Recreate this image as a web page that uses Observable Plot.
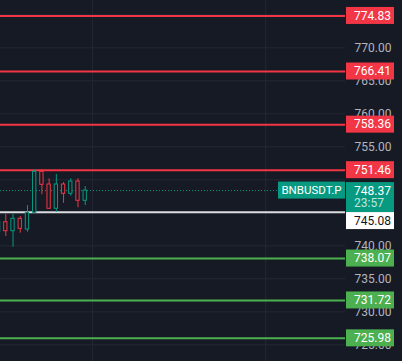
<!DOCTYPE html>
<html><head><meta charset="utf-8">
<script src="https://cdn.jsdelivr.net/npm/d3@7"></script>
<script src="https://cdn.jsdelivr.net/npm/@observablehq/plot@0.6"></script>
<style>
html,body{margin:0;padding:0;background:#161a25;overflow:hidden}
#chart svg{display:block}
</style>
</head><body><div id="chart"></div>
<script>
// ---- data ----
const candleIdx = [0,1,2,3,4,5,6,7,8,9,10,11,12];
const opens  = [742.06,743.58,742.21,744.09,742.47,745.00,751.21,749.29,745.61,749.29,747.88,749.74,746.82];
const highs  = [744.00,744.74,744.74,744.44,746.10,751.52,751.21,750.15,750.80,749.59,750.15,750.15,748.98];
const lows   = [741.60,741.41,739.79,741.91,742.06,745.00,747.73,745.61,745.05,746.45,747.52,745.76,746.11];
const closes = [743.58,742.21,744.09,742.58,745.00,751.21,749.24,745.61,749.29,747.88,749.74,746.82,748.37];

const levelPrices = [774.83,766.41,758.36,751.46,745.08,738.07,731.72,725.98];
const levelTypes  = ["resistance","resistance","resistance","resistance","pivot","support","support","support"];

const lastPrice = 748.37;
const symbol = "BNBUSDT.P";
const countdown = "23:57";

const gridTicks = [725,730,735,740,745,750,755,760,765,770,775];
const labelTicks = [725,730,735,740,755,760,765,770];
const sessionBreaks = [13, 37];

// ---- style ----
const bg = "#161a25", gridColor = "#242833", axisText = "#b2b5be";
const up = "#089981", down = "#f23645";
const typeColor = {resistance: "#f23645", pivot: "#dcdde0", support: "#4caf50"};
const typeBox   = {resistance: "#f23645", pivot: "#ffffff", support: "#4caf50"};
const typeText  = {resistance: "#ffffff", pivot: "#131722", support: "#ffffff"};

const candles = candleIdx.map((i, k) => ({i, open: opens[k], high: highs[k], low: lows[k], close: closes[k]}));
const levels = levelPrices.map((p, k) => ({price: p, type: levelTypes[k]}));
const bodyHalf = 0.23;

function priceLabels(index, scales, values, dim) {
  const g = d3.create("svg:g").attr("font-family", "Roboto, sans-serif").attr("font-size", 12).attr("text-anchor", "start");
  const x0 = dim.width - dim.marginRight + 1, boxW = 48, boxH = 17;
  const items = levels.map(d => ({y: scales.y(d.price), h: boxH, fill: typeBox[d.type], color: typeText[d.type], lines: [d.price.toFixed(2)], off: -8.5}));
  items.push({y: scales.y(lastPrice), h: 30, fill: up, color: "#ffffff", lines: [lastPrice.toFixed(2), countdown], off: -8});
  items.sort((a, b) => a.y - b.y);
  let prevBottom = -Infinity;
  for (const it of items) {
    it.top = Math.max(it.y + it.off, prevBottom);
    prevBottom = it.top + it.h;
  }
  const lp = scales.y(lastPrice);
  const sw = 67;
  g.append("rect").attr("x", x0 - 1 - sw).attr("y", lp - 8.5).attr("width", sw).attr("height", 17).attr("fill", up);
  g.append("text").attr("x", x0 - 1 - sw / 2).attr("y", lp).attr("dy", "0.36em").attr("text-anchor", "middle")
    .attr("fill", "#ffffff").attr("font-size", 11.5).text(symbol);
  for (const it of items) {
    g.append("rect").attr("x", x0).attr("y", it.top).attr("width", boxW).attr("height", it.h).attr("fill", it.fill);
    it.lines.forEach((t, j) => {
      g.append("text").attr("x", x0 + 8).attr("y", it.top + 8.5 + j * 12.6).attr("dy", "0.36em")
        .attr("fill", j === 0 ? it.color : "#bfe6dd").text(t);
    });
  }
  return g.node();
}

const chart = Plot.plot({
  width: 402, height: 361,
  marginLeft: 0, marginRight: 57, marginTop: 0, marginBottom: 0,
  style: {background: bg, fontFamily: "Roboto, sans-serif", fontSize: "12px", overflow: "visible"},
  x: {domain: [0.266, 48.05], axis: null},
  y: {domain: [722.47, 777.17], axis: null},
  marks: [
    Plot.ruleY(gridTicks, {stroke: gridColor, strokeWidth: 1}),
    Plot.ruleX(sessionBreaks, {stroke: gridColor, strokeWidth: 1}),
    Plot.axisY(labelTicks, {anchor: "right", tickSize: 0, tickPadding: 9, tickFormat: d => d.toFixed(2), color: axisText, fontSize: 12}),
    Plot.ruleY(levels, {y: "price", stroke: d => typeColor[d.type], strokeWidth: 2}),
    Plot.ruleY([lastPrice], {stroke: up, strokeWidth: 1, strokeDasharray: "1,2"}),
    Plot.ruleX(candles, {x: "i", y1: "low", y2: "high", stroke: d => d.close >= d.open ? up : down, strokeWidth: 1, clip: true}),
    Plot.rect(candles, {x1: d => d.i - bodyHalf, x2: d => d.i + bodyHalf, y1: "open", y2: "close",
      fill: bg, stroke: d => d.close >= d.open ? up : down, strokeWidth: 1, clip: true}),
    priceLabels
  ]
});
document.getElementById("chart").appendChild(chart);
</script>
</body></html>
